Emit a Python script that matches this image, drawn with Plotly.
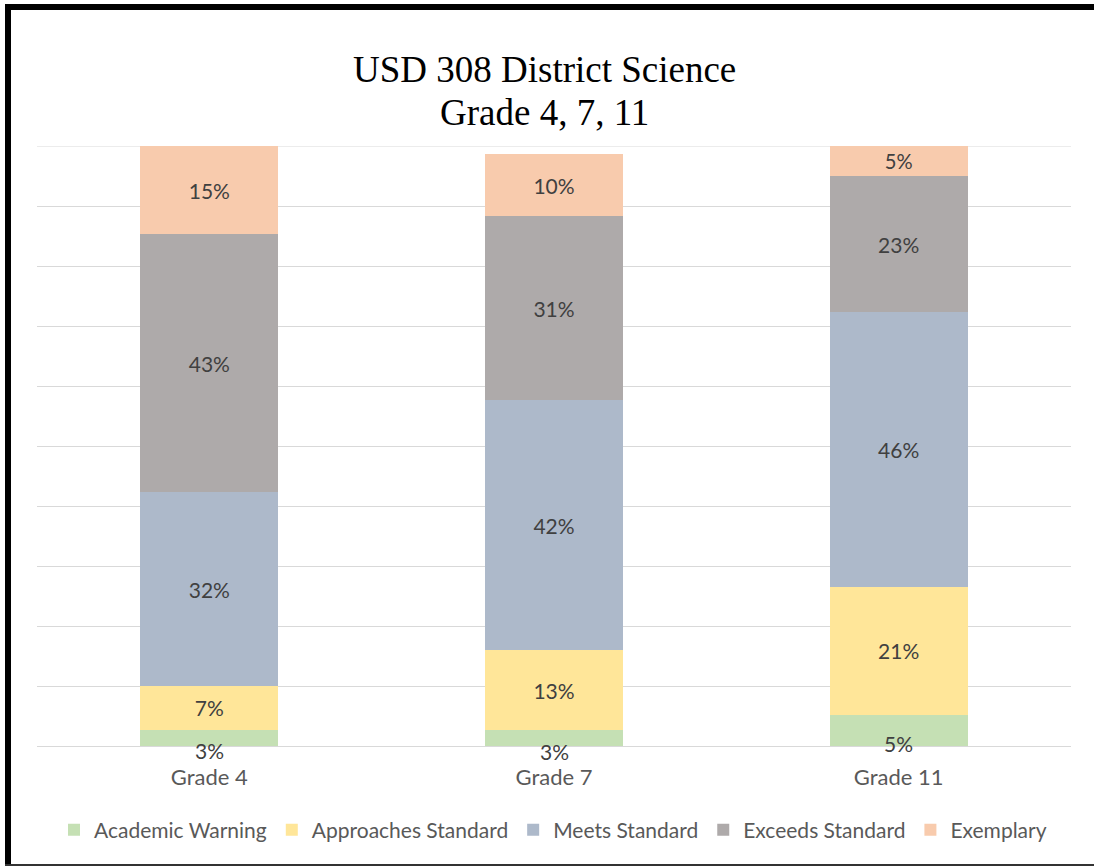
import plotly.graph_objects as go

categories = ["Grade 4", "Grade 7", "Grade 11"]
academic_warning = [2.7, 2.6, 5.2]
approaches_standard = [7.3, 13.4, 21.3]
meets_standard = [32.3, 41.6, 45.8]
exceeds_standard = [43.0, 30.8, 22.7]
exemplary = [14.7, 10.2, 5.0]

series_names = ["Academic Warning", "Approaches Standard", "Meets Standard",
                "Exceeds Standard", "Exemplary"]
series_values = [academic_warning, approaches_standard, meets_standard,
                 exceeds_standard, exemplary]
colors = ["#C5E0B4", "#FFE699", "#ADB9CA", "#AEAAAA", "#F8CBAD"]

W, H = 1094, 867
L, R, T, B = 37, 23, 146, 121
PW, PH = W - L - R, H - T - B

def px_x(px):
    return (px - L) / PW

def px_y(py):
    return (H - B - py) / PH

FONT = "Lato"
fig = go.Figure()
for i, (name, vals, col) in enumerate(zip(series_names, series_values, colors)):
    fig.add_trace(go.Bar(
        x=categories, y=vals, name=name,
        marker=dict(color=col, line=dict(width=0)),
        texttemplate="%{y:.0f}%" if i > 0 else None,
        textposition="inside" if i > 0 else "none",
        insidetextanchor="middle",
        textangle=0,
        insidetextfont=dict(family=FONT, size=21, color="#404040"),
        hoverinfo="skip",
    ))

# Academic Warning labels (sit slightly below the thin segment, as in the original)
for cat, v in zip(categories, academic_warning):
    fig.add_annotation(x=cat, y=v / 2, text=f"{round(v):.0f}%", showarrow=False,
                       yshift=-13, font=dict(family=FONT, size=21, color="#404040"))

# Title (two lines)
fig.add_annotation(xref="paper", yref="paper", x=px_x(544), y=px_y(70),
                   text="USD 308 District Science", showarrow=False,
                   xanchor="center", yanchor="middle",
                   font=dict(family="Liberation Serif", size=37, color="#000000"))
fig.add_annotation(xref="paper", yref="paper", x=px_x(544), y=px_y(112),
                   text="Grade 4, 7, 11", showarrow=False,
                   xanchor="center", yanchor="middle",
                   font=dict(family="Liberation Serif", size=37, color="#000000"))

# Frame and top gridline
shapes = [
    dict(type="line", xref="paper", yref="y", x0=0, x1=1, y0=100, y1=100,
         line=dict(color="#D9D9D9", width=1), layer="below"),
    dict(type="rect", xref="paper", yref="paper", x0=px_x(5), x1=px_x(1094),
         y0=px_y(10), y1=px_y(4), fillcolor="#000000", line=dict(width=0), layer="above"),
    dict(type="rect", xref="paper", yref="paper", x0=px_x(5), x1=px_x(11),
         y0=px_y(866), y1=px_y(4), fillcolor="#000000", line=dict(width=0), layer="above"),
    dict(type="line", xref="paper", yref="paper", x0=px_x(5), x1=px_x(1094),
         y0=px_y(865), y1=px_y(865), line=dict(color="#333333", width=2), layer="above"),
]

fig.update_layout(
    width=W, height=H,
    margin=dict(l=L, r=R, t=T, b=B, autoexpand=False),
    paper_bgcolor="white", plot_bgcolor="white",
    barmode="stack", bargap=0.6,
    showlegend=True,
    legend=dict(orientation="h", x=px_x(553), xanchor="center",
                y=px_y(830), yanchor="middle",
                font=dict(family=FONT, size=21, color="#595959"),
                traceorder="normal", itemclick=False, itemdoubleclick=False),
    shapes=shapes,
    font=dict(family=FONT),
)
fig.update_xaxes(showgrid=False, showline=True, linecolor="#D9D9D9", linewidth=1,
                 ticks="", ticklabelstandoff=12,
                 tickfont=dict(family=FONT, size=22, color="#595959"))
fig.update_yaxes(range=[0, 100], dtick=10, showgrid=True, gridcolor="#D9D9D9",
                 gridwidth=1, showticklabels=False, zeroline=False, ticks="")

fig.write_html("out.html", config={"displayModeBar": False},
               post_script="document.body.style.margin='0';")
